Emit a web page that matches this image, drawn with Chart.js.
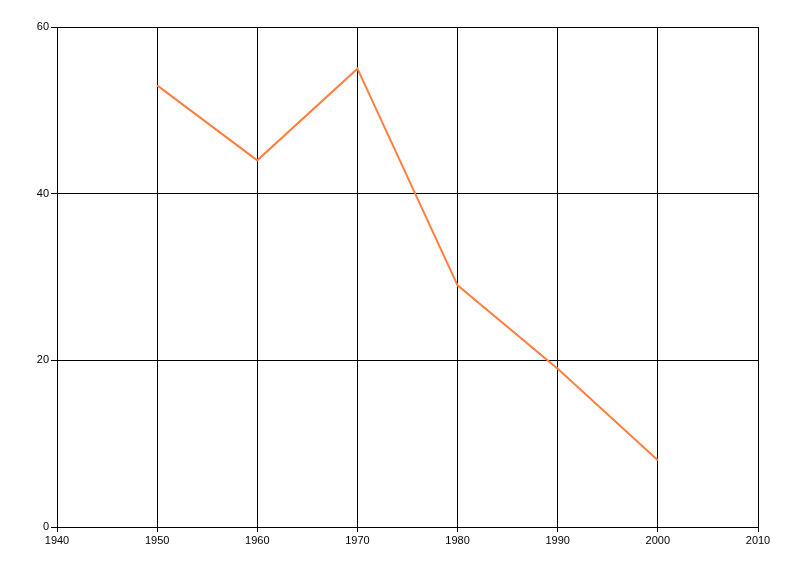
<!DOCTYPE html>
<html>
<head>
<meta charset="utf-8">
<script src="https://cdn.jsdelivr.net/npm/chart.js@4"></script>
<style>
  html, body { margin: 0; padding: 0; background: #fff; }
  #wrap { width: 800px; height: 576px; }
</style>
</head>
<body>
<div id="wrap"><canvas id="chart" width="800" height="576"></canvas></div>
<script>
// data
const years = [1950, 1960, 1970, 1980, 1990, 2000];
const values = [53, 44, 55, 29, 19, 8];

const xTicks = [1940, 1950, 1960, 1970, 1980, 1990, 2000, 2010];
const yTicks = [0, 20, 40, 60];

const points = years.map((y, i) => ({ x: y, y: values[i] }));

new Chart(document.getElementById('chart'), {
  type: 'line',
  data: {
    datasets: [{
      data: points,
      borderColor: '#ff7f40',
      borderWidth: 2,
      pointRadius: 0,
      fill: false,
      tension: 0
    }]
  },
  options: {
    responsive: false,
    animation: false,
    layout: { padding: { top: 27, right: 42, left: 0, bottom: 0 } },
    plugins: { legend: { display: false }, tooltip: { enabled: false } },
    scales: {
      x: {
        type: 'linear',
        min: xTicks[0],
        max: xTicks[xTicks.length - 1],
        afterBuildTicks: axis => { axis.ticks = xTicks.map(v => ({ value: v })); },
        afterFit: axis => { axis.height = 49; },
        grid: { color: '#000', lineWidth: 1, tickLength: 5, drawTicks: true },
        border: { color: '#000', width: 1 },
        ticks: {
          color: '#000',
          font: { family: 'Liberation Sans', size: 11 },
          padding: 2,
          maxRotation: 0,
          callback: v => String(v)
        }
      },
      y: {
        min: 0,
        max: 60,
        afterBuildTicks: axis => { axis.ticks = yTicks.map(v => ({ value: v })); },
        afterFit: axis => { axis.width = 57; },
        grid: { color: '#000', lineWidth: 1, tickLength: 6, drawTicks: true },
        border: { color: '#000', width: 1 },
        ticks: {
          color: '#000',
          font: { family: 'Liberation Sans', size: 11 },
          padding: 2
        }
      }
    }
  }
});
</script>
</body>
</html>
